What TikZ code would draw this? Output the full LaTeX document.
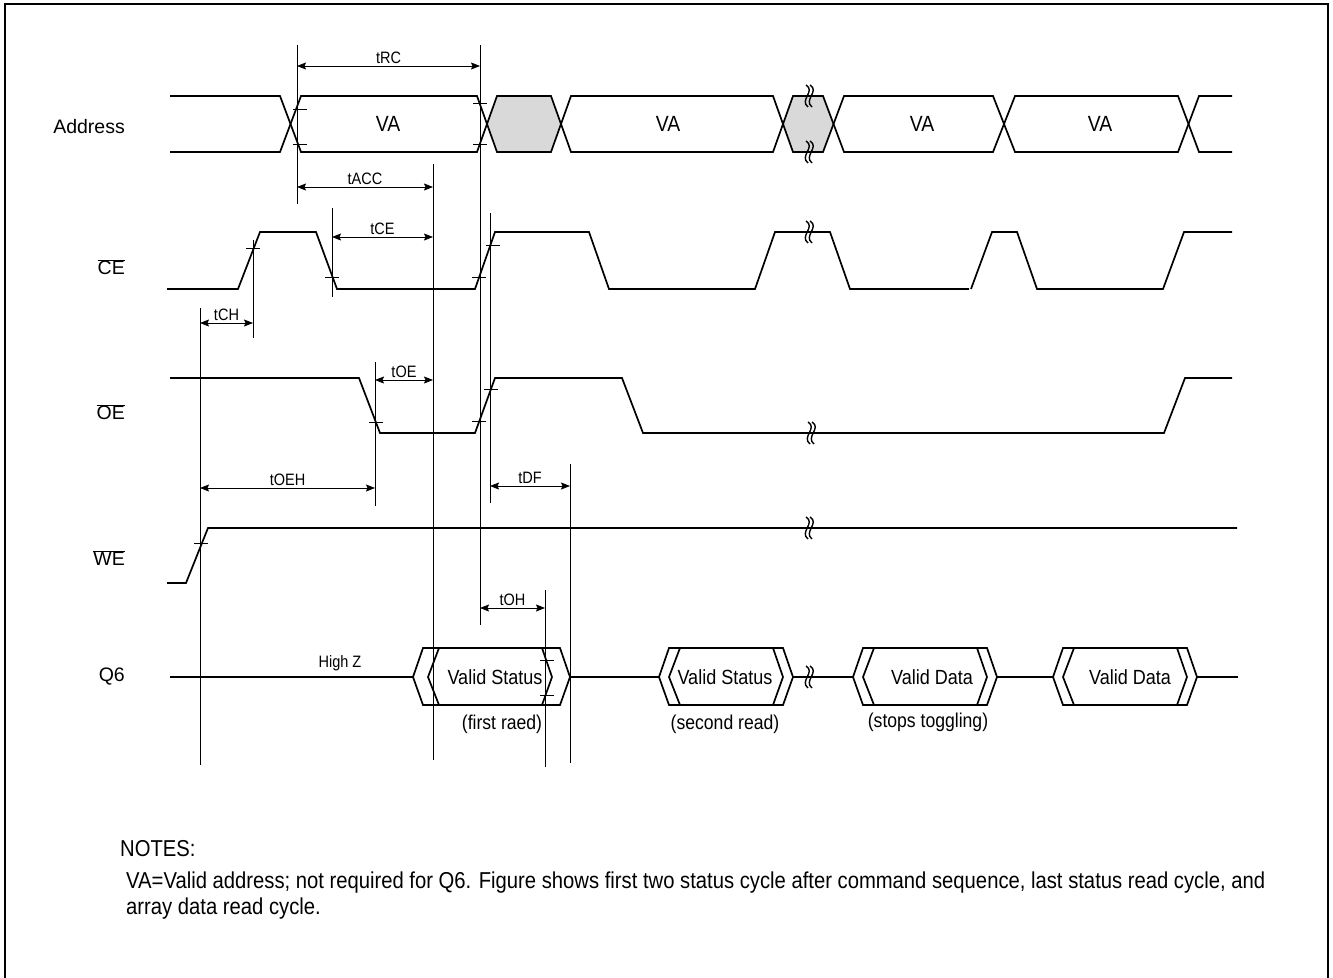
\documentclass[tikz,border=0pt]{standalone}
\usepackage{fontspec}
\setmainfont{Liberation Sans}
\newfontfamily\narrowsans{Liberation Sans}[FakeStretch=0.88]
\usetikzlibrary{arrows.meta}
\definecolor{busgray}{RGB}{217,217,217}

% double chevron data box on the Q6 line
\newcommand{\qsbox}[4]{%
  \draw[sig] (#1,677) -- (#1+10,648) -- (#4-10,648) -- (#4,677) -- (#4-10,705) -- (#1+10,705) -- cycle;
  \draw[sig] (#2+11,648) -- (#2,677) -- (#2+11,705);
  \draw[sig] (#3-10,648) -- (#3,677) -- (#3-10,705);
}

\begin{document}
\begin{tikzpicture}
  [x=1pt, y=-1pt,
    sig/.style={line width=1.7pt, line join=miter},
    tline/.style={line width=0.8pt},
    dim/.style={line width=0.8pt, {Stealth[length=9pt,width=7pt,inset=1.5pt]}-{Stealth[length=9pt,width=7pt,inset=1.5pt]}},
    tlab/.style={font=\narrowsans\fontsize{16.5}{18}\selectfont, inner sep=2pt},
    siglab/.style={font=\fontsize{19.5}{22}\selectfont, anchor=east, inner sep=0pt},
    boxlab/.style={font=\narrowsans\fontsize{20.5}{23}\selectfont, inner sep=0pt},
    notelab/.style={font=\narrowsans\fontsize{23}{26}\selectfont, anchor=base west, inner sep=0pt},
    brkmark/.pic={
      \draw[line width=1.4pt] (-2,-11) .. controls (8,-5) and (-9,4) .. (0,11);
      \draw[line width=1.4pt] (2,-11) .. controls (12,-5) and (-5,4) .. (4,11);
    }
  ]
  \useasboundingbox (0,0) rectangle (1333,977);
  \draw[line width=2pt] (5,990) -- (5,4) -- (1328,4) -- (1328,990);

  % signal names
  \node (lAddr) [siglab] at (125,127) {Address};
  \node (lCE) [siglab] at (125,267) {$\overline{\mbox{CE}}$};
  \node (lOE) [siglab] at (125,412) {$\overline{\mbox{OE}}$};
  \node (lWE) [siglab] at (125,558) {$\overline{\mbox{WE}}$};
  \node (lQ) [siglab] at (125,677) {Q6};

  % address bus
  \fill[busgray] (487,124) -- (497,96) -- (551,96) -- (561,124) -- (551,152) -- (497,152) -- cycle;
  \fill[busgray] (783,124) -- (793,96) -- (823,96) -- (833,124) -- (823,152) -- (793,152) -- cycle;
  \draw[sig] (170,96) -- (280,96) -- (301,152) -- (477,152) -- (497,96) -- (551,96) -- (571,152)
    -- (773,152) -- (793,96) -- (823,96) -- (844,152) -- (993,152) -- (1015,96) -- (1178,96)
    -- (1199,152) -- (1232,152);
  \draw[sig] (170,152) -- (280,152) -- (301,96) -- (477,96) -- (497,152) -- (551,152) -- (571,96)
    -- (773,96) -- (793,152) -- (823,152) -- (844,96) -- (993,96) -- (1015,152) -- (1178,152)
    -- (1199,96) -- (1232,96);
  \foreach \x [count=\i] in {388,668,922,1100}
    \node (va\i) [boxlab, font=\narrowsans\fontsize{22}{24}\selectfont] at (\x,124) {VA};

  % CE
  \draw[sig] (167,289) -- (238,289) -- (260,232) -- (316,232) -- (337,289) -- (475,289) -- (495,232)
    -- (589,232) -- (609,289) -- (755,289) -- (775,232) -- (830,232) -- (850,289) -- (969,289);
  \draw[sig] (971,289) -- (992,232) -- (1017,232) -- (1037,289) -- (1163,289) -- (1184,232) -- (1232,232);

  % OE
  \draw[sig] (170,378) -- (359,378) -- (380,433) -- (475,433) -- (495,378) -- (622,378) -- (643,433)
    -- (1164,433) -- (1185,378) -- (1232,378);

  % WE
  \draw[sig] (167,583) -- (186,583) -- (208,528) -- (1237,528);

  % Q6
  \draw[sig] (170,677) -- (413,677);
  \draw[sig] (570,677) -- (659,677);
  \draw[sig] (793,677) -- (853,677);
  \draw[sig] (997,677) -- (1053,677);
  \draw[sig] (1197,677) -- (1238,677);
  \qsbox{413}{428}{552}{570}
  \qsbox{659}{669}{783}{793}
  \qsbox{853}{863}{987}{997}
  \qsbox{1053}{1063}{1187}{1197}
  \node (hz) [tlab] at (340,663) {High Z};
  \node (vs1) [boxlab] at (495,677) {Valid Status};
  \node (vs2) [boxlab] at (725,677) {Valid Status};
  \node (vd1) [boxlab] at (932,677) {Valid Data};
  \node (vd2) [boxlab] at (1130,677) {Valid Data};
  \node (n1) [boxlab, font=\narrowsans\fontsize{20}{22}\selectfont] at (502,724) {(first raed)};
  \node (n2) [boxlab, font=\narrowsans\fontsize{20}{22}\selectfont] at (725,724) {(second read)};
  \node (n3) [boxlab, font=\narrowsans\fontsize{20}{22}\selectfont] at (928,722) {(stops toggling)};

  % break marks
  \foreach \x/\y in {808/96, 808/152, 808/232, 810/433, 808/528, 808/677}
    \pic at (\x,\y) {brkmark};

  % timing reference lines
  \draw[tline] (297,45) -- (297,204);
  \draw[tline] (480,45) -- (480,625);
  \draw[tline] (490,213) -- (490,503);
  \draw[tline] (433,164) -- (433,760);
  \draw[tline] (332,208) -- (332,297);
  \draw[tline] (253,240) -- (253,338);
  \draw[tline] (200,308) -- (200,765);
  \draw[tline] (375,362) -- (375,506);
  \draw[tline] (570,464) -- (570,763);
  \draw[tline] (545,590) -- (545,767);

  % crossing ticks
  \foreach \x/\y in {300/109, 300/144, 480/103, 480/144, 253/248, 332/277, 479/277, 493/245,
                     376/422, 479/421, 491/389, 201/543, 547/660, 547/695}
    \draw[tline] (\x-7,\y) -- (\x+7,\y);

  % timing arrows
  \draw[dim] (297,66) -- node (tRC) [tlab, above] {tRC} (480,66);
  \draw[dim] (297,187) -- node (tACC) [tlab, above] {tACC} (433,187);
  \draw[dim] (332,237) -- node (tCE) [tlab, above] {tCE} (433,237);
  \draw[dim] (200,323) -- node (tCH) [tlab, above] {tCH} (253,323);
  \draw[dim] (375,380) -- node (tOE) [tlab, above] {tOE} (433,380);
  \draw[dim] (200,488) -- node (tOEH) [tlab, above] {tOEH} (375,488);
  \draw[dim] (490,486) -- node (tDF) [tlab, above] {tDF} (570,486);
  \draw[dim] (480,608) -- node (tOH) [tlab, above] {tOH} (545,608);

  % notes
  \node (notes) [notelab] at (120,856) {NOTES:};
  \node (note1) [notelab] at (126,888) {VA=Valid address; not required for Q6. Figure shows first two status cycle after command sequence, last status read cycle, and};
  \node (note2) [notelab] at (126,914) {array data read cycle.};
\end{tikzpicture}
\end{document}
